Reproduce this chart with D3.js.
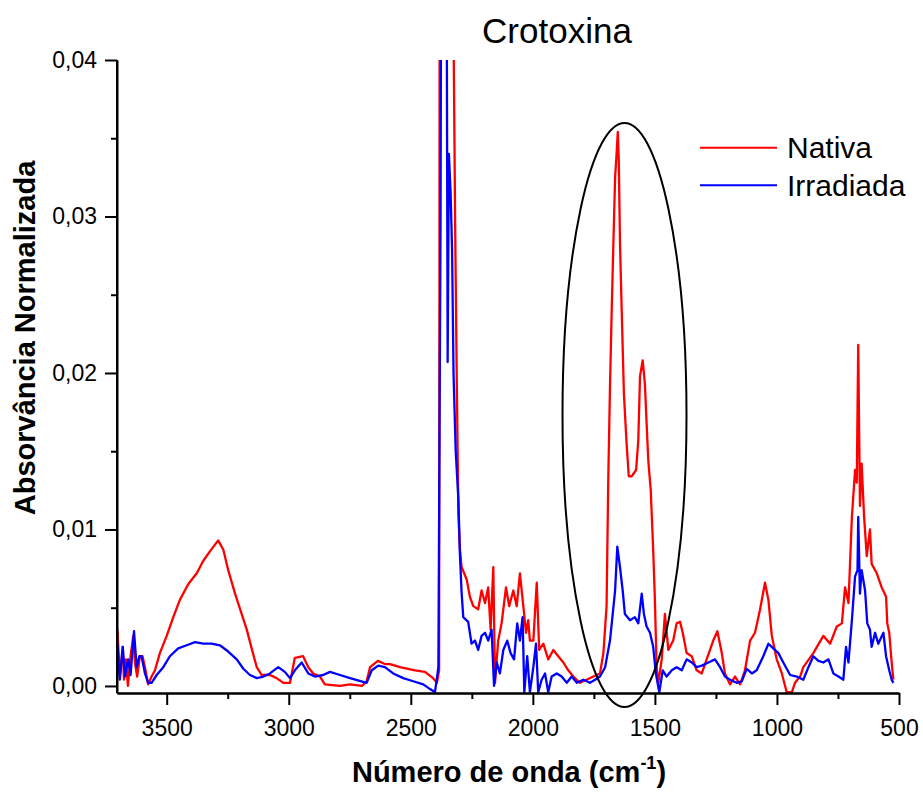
<!DOCTYPE html>
<html>
<head>
<meta charset="utf-8">
<script src="https://cdn.jsdelivr.net/npm/d3@7"></script>
<style>
  body { margin: 0; background: #fff; }
  text { font-family: Arial, "Liberation Sans", sans-serif; fill: #000; }
</style>
</head>
<body>
<svg id="chart" width="923" height="796"></svg>
<script>
// FTIR spectra, wavenumber (cm-1) vs normalized absorbance
const nativaWn = [3702,3692,3680,3675,3667,3659,3648,3637,3630,3621,3610,3599,3589,3576,3562,3548,3528,3500,3473,3446,3412,3377,3350,3323,3289,3268,3248,3220,3193,3172,3152,3131,3111,3077,3050,3022,2995,2975,2941,2920,2900,2872,2852,2790,2749,2700,2681,2667,2635,2606,2585,2544,2483,2442,2409,2393,2384,2381,2370,2340,2325,2318,2312,2305,2299,2292,2271,2258,2244,2224,2210,2196,2183,2173,2162,2155,2142,2128,2110,2097,2080,2066,2053,2039,2028,2019,2012,1998,1984,1974,1957,1937,1916,1896,1875,1855,1834,1807,1780,1752,1725,1711,1698,1691,1684,1677,1670,1663,1657,1652,1648,1643,1636,1627,1616,1607,1595,1577,1568,1561,1550,1541,1534,1527,1517,1507,1500,1493,1486,1472,1459,1445,1425,1411,1397,1386,1370,1349,1329,1308,1288,1261,1244,1226,1213,1192,1172,1151,1131,1110,1090,1069,1049,1035,1021,1001,980,960,939,926,905,892,851,810,782,755,734,721,707,693,680,673,667,660,653,643,632,619,612,591,571,553,548,540,530,523]
const nativaAbs = [0.0036,0.0006,0.0025,0.0004,0.0017,0.0000,0.0019,0.0032,0.0015,0.0006,0.0019,0.0019,0.0012,0.0001,0.0006,0.0010,0.0021,0.0032,0.0044,0.0055,0.0065,0.0072,0.0080,0.0086,0.0093,0.0087,0.0074,0.0059,0.0046,0.0036,0.0024,0.0012,0.0007,0.0007,0.0005,0.0002,0.0002,0.0018,0.0019,0.0012,0.0008,0.0006,0.0001,0.0000,0.0001,0.0000,0.0003,0.0012,0.0016,0.0014,0.0014,0.0012,0.0010,0.0009,0.0005,0.0002,0.0010,0.0600,0.0700,0.0700,0.0420,0.0290,0.0200,0.0110,0.0088,0.0076,0.0068,0.0057,0.0051,0.0049,0.0061,0.0053,0.0063,0.0036,0.0076,0.0002,0.0029,0.0040,0.0063,0.0051,0.0061,0.0051,0.0072,0.0051,0.0034,0.0042,0.0029,0.0029,0.0066,0.0023,0.0027,0.0017,0.0023,0.0019,0.0015,0.0010,0.0006,0.0002,0.0004,0.0006,0.0008,0.0021,0.0051,0.0132,0.0191,0.0240,0.0283,0.0325,0.0340,0.0354,0.0336,0.0283,0.0240,0.0187,0.0155,0.0134,0.0134,0.0138,0.0157,0.0198,0.0208,0.0193,0.0168,0.0144,0.0125,0.0087,0.0055,0.0012,0.0002,0.0017,0.0046,0.0023,0.0029,0.0040,0.0041,0.0034,0.0021,0.0019,0.0010,0.0008,0.0017,0.0029,0.0035,0.0021,0.0008,0.0001,0.0006,0.0001,0.0010,0.0029,0.0034,0.0049,0.0066,0.0055,0.0032,0.0017,0.0008,-0.0004,-0.0004,0.0002,0.0006,0.0012,0.0021,0.0032,0.0027,0.0038,0.0040,0.0063,0.0053,0.0108,0.0138,0.0130,0.0218,0.0115,0.0142,0.0108,0.0083,0.0100,0.0078,0.0072,0.0063,0.0057,0.0040,0.0034,0.0015,0.0004]

const irradWn = [3702,3692,3680,3671,3658,3648,3634,3623,3612,3603,3589,3576,3562,3541,3514,3487,3453,3418,3384,3350,3316,3282,3248,3213,3186,3159,3131,3104,3077,3043,3016,2995,2975,2947,2920,2893,2859,2831,2790,2749,2681,2660,2633,2606,2572,2531,2490,2449,2421,2401,2387,2378,2374,2365,2353,2349,2344,2337,2331,2325,2316,2305,2299,2292,2285,2265,2251,2237,2224,2210,2196,2183,2169,2159,2148,2135,2121,2105,2091,2077,2064,2053,2042,2035,2023,2012,1998,1987,1978,1964,1950,1937,1923,1902,1882,1861,1841,1820,1793,1766,1745,1725,1704,1684,1663,1654,1643,1632,1623,1602,1582,1568,1554,1545,1534,1520,1507,1496,1482,1468,1452,1431,1411,1390,1370,1349,1329,1308,1281,1254,1233,1213,1192,1165,1144,1124,1103,1083,1056,1035,1015,994,974,946,919,892,871,851,830,810,789,769,748,728,717,707,693,680,670,667,660,653,639,630,619,612,598,585,564,553,540,530,523]
const irradAbs = [0.0027,0.0004,0.0025,0.0006,0.0017,0.0007,0.0035,0.0012,0.0019,0.0019,0.0008,0.0002,0.0002,0.0007,0.0012,0.0019,0.0024,0.0026,0.0028,0.0027,0.0027,0.0026,0.0022,0.0017,0.0011,0.0007,0.0005,0.0006,0.0008,0.0012,0.0009,0.0005,0.0010,0.0015,0.0008,0.0006,0.0007,0.0009,0.0007,0.0005,0.0002,0.0010,0.0013,0.0012,0.0008,0.0005,0.0003,0.0001,-0.0002,-0.0004,0.0012,0.0300,0.0600,0.0600,0.0450,0.0207,0.0340,0.0315,0.0280,0.0200,0.0150,0.0119,0.0085,0.0060,0.0044,0.0041,0.0027,0.0029,0.0023,0.0032,0.0034,0.0029,0.0036,0.0000,0.0015,0.0008,0.0023,0.0029,0.0021,0.0017,0.0040,0.0029,0.0044,-0.0004,0.0019,-0.0004,0.0012,0.0027,-0.0004,0.0004,0.0008,-0.0004,0.0006,0.0008,0.0006,0.0002,0.0006,0.0002,0.0004,0.0002,0.0004,0.0006,0.0012,0.0029,0.0061,0.0089,0.0076,0.0061,0.0046,0.0042,0.0044,0.0040,0.0059,0.0046,0.0038,0.0034,0.0025,0.0008,-0.0004,0.0010,0.0006,0.0010,0.0012,0.0010,0.0017,0.0015,0.0012,0.0013,0.0015,0.0017,0.0012,0.0006,0.0004,0.0002,0.0003,0.0011,0.0008,0.0010,0.0019,0.0027,0.0024,0.0021,0.0015,0.0007,0.0006,0.0004,0.0012,0.0019,0.0016,0.0015,0.0017,0.0008,0.0006,0.0004,0.0025,0.0015,0.0042,0.0070,0.0074,0.0108,0.0059,0.0074,0.0061,0.0040,0.0036,0.0025,0.0034,0.0027,0.0034,0.0019,0.0010,0.0004,0.0002]

const xMajor = [3500, 3000, 2500, 2000, 1500, 1000, 500]
const xMinor = [3250, 2750, 2250, 1750, 1250, 750]
const yMajor = [0, 0.01, 0.02, 0.03, 0.04]
const yMinor = [0.005, 0.015, 0.025, 0.035]

const L = 117, R = 899, T = 60, B = 693

const svg = d3.select('#chart')
const x = d3.scaleLinear().domain([3703.6, 500]).range([L, R])
const y = d3.scaleLinear().domain([-0.00045, 0.04]).range([B, T])
const fmtY = v => d3.format('.2f')(v).replace('.', ',')

svg.append('clipPath').attr('id', 'plot-clip')
  .append('rect').attr('x', L).attr('y', T).attr('width', R - L).attr('height', B - T + 1)

const line = d3.line().x(d => x(d[0])).y(d => y(d[1]))
const series = [
  { name: 'Nativa', color: '#ff0000', pts: d3.zip(nativaWn, nativaAbs) },
  { name: 'Irradiada', color: '#0000ff', pts: d3.zip(irradWn, irradAbs) }
]

const gLines = svg.append('g').attr('clip-path', 'url(#plot-clip)')
gLines.selectAll('path').data(series).enter().append('path')
  .attr('d', d => line(d.pts))
  .attr('fill', 'none').attr('stroke', d => d.color)
  .attr('stroke-width', 2.3).attr('stroke-linejoin', 'round')

// axes
const axStyle = g => {
  g.select('.domain').attr('stroke', '#000').attr('stroke-width', 2)
  g.selectAll('.tick line').attr('stroke', '#000').attr('stroke-width', 2)
}
svg.append('g').attr('transform', `translate(0,${B})`)
  .call(d3.axisBottom(x).tickValues(xMinor).tickSize(6).tickFormat('').tickSizeOuter(0))
  .call(axStyle)
const gx = svg.append('g').attr('transform', `translate(0,${B})`)
  .call(d3.axisBottom(x).tickValues(xMajor).tickSize(12).tickPadding(15).tickSizeOuter(0).tickFormat(d3.format('d')))
  .call(axStyle)
gx.selectAll('.tick text').attr('font-size', 23).attr('font-family', 'Arial, "Liberation Sans", sans-serif').attr('fill', '#000')

svg.append('g').attr('transform', `translate(${L},0)`)
  .call(d3.axisLeft(y).tickValues(yMinor).tickSize(6).tickFormat('').tickSizeOuter(0))
  .call(axStyle)
const gy = svg.append('g').attr('transform', `translate(${L},0)`)
  .call(d3.axisLeft(y).tickValues(yMajor).tickSize(12).tickPadding(8).tickSizeOuter(0).tickFormat(fmtY))
  .call(axStyle)
gy.selectAll('.tick text').attr('font-size', 23).attr('font-family', 'Arial, "Liberation Sans", sans-serif').attr('fill', '#000')
// y axis line reaches exactly to the top tick
gy.select('.domain').attr('d', `M0,${B}V${T}`)

// highlight ellipse around the amide bands
svg.append('ellipse').attr('cx', 624.5).attr('cy', 415).attr('rx', 62).attr('ry', 292)
  .attr('fill', 'none').attr('stroke', '#000').attr('stroke-width', 2)

// title + axis titles
svg.append('text').attr('x', 557).attr('y', 43).attr('text-anchor', 'middle')
  .attr('font-size', 35).text('Crotoxina')

const xt = svg.append('text').attr('x', 509).attr('y', 782).attr('text-anchor', 'middle')
  .attr('font-size', 29).attr('font-weight', 'bold')
xt.append('tspan').text('Número de onda (cm')
xt.append('tspan').attr('font-size', 18).attr('dy', -13).text('-1')
xt.append('tspan').attr('dy', 13).text(')')

svg.append('text').attr('transform', 'translate(35,338) rotate(-90)').attr('text-anchor', 'middle')
  .attr('font-size', 29).attr('font-weight', 'bold').text('Absorvância Normalizada')

// legend
const lg = svg.append('g').selectAll('g').data(series).enter().append('g')
  .attr('transform', (d, i) => `translate(700,${147.7 + i * 37.5})`)
lg.append('line').attr('x1', 0).attr('x2', 77).attr('stroke', d => d.color).attr('stroke-width', 2)
lg.append('text').attr('x', 87).attr('y', 10.6).attr('font-size', 30).text(d => d.name)
</script>
</body>
</html>
